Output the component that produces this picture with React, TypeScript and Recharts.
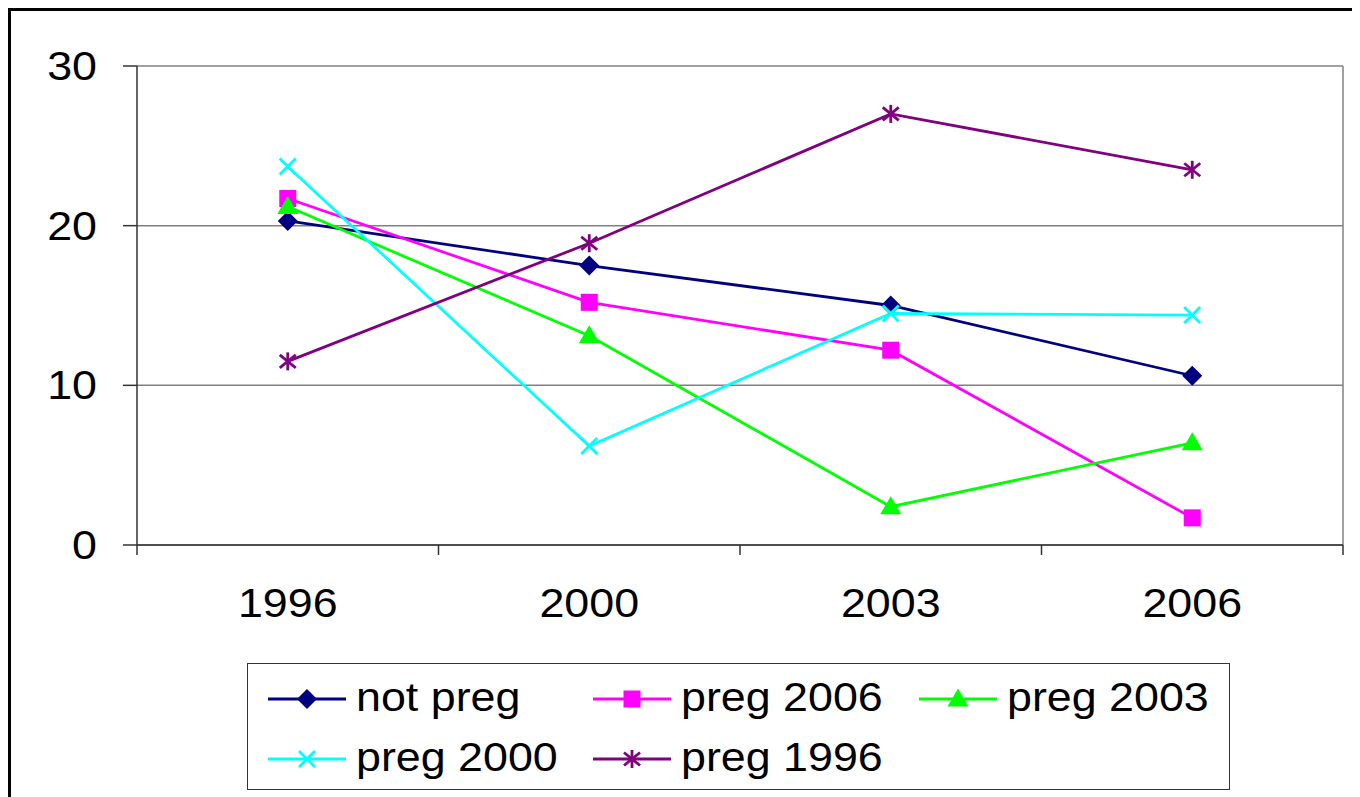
import { LineChart, Line, XAxis, YAxis, CartesianGrid } from 'recharts'

const years = ['1996', '2000', '2003', '2006']
const notPreg = [20.3, 17.5, 15.0, 10.6]
const preg2006 = [21.7, 15.2, 12.2, 1.7]
const preg2003 = [21.2, 13.1, 2.4, 6.4]
const preg2000 = [23.7, 6.2, 14.5, 14.4]
const preg1996 = [11.5, 18.9, 27.0, 23.5]
const yTicks = [0, 10, 20, 30]

type MarkerKind = 'diamond' | 'square' | 'triangle' | 'cross' | 'star'

const series: { key: string; name: string; color: string; marker: MarkerKind; values: number[] }[] = [
  { key: 'notPreg', name: 'not preg', color: '#000080', marker: 'diamond', values: notPreg },
  { key: 'preg2006', name: 'preg 2006', color: '#ff00ff', marker: 'square', values: preg2006 },
  { key: 'preg2003', name: 'preg 2003', color: '#00ff00', marker: 'triangle', values: preg2003 },
  { key: 'preg2000', name: 'preg 2000', color: '#00ffff', marker: 'cross', values: preg2000 },
  { key: 'preg1996', name: 'preg 1996', color: '#800080', marker: 'star', values: preg1996 },
]

const rows = years.map((year, i) => {
  const row: Record<string, string | number> = { year }
  series.forEach((s) => {
    row[s.key] = s.values[i]
  })
  return row
})

const FONT = '"Liberation Sans", Arial, sans-serif'
const STRETCH = 1.12
const LINE_W = 2.8
const W = 1352
const H = 789
const MARGIN = { top: 58, right: 17, bottom: 162, left: 0 }
const Y_WIDTH = 129
// half of one category band; points sit in the middle of their band
const HALF_BAND = (W - MARGIN.left - MARGIN.right - Y_WIDTH) / years.length / 2

function Marker({ kind, cx, cy, color }: { kind: MarkerKind; cx: number; cy: number; color: string }) {
  switch (kind) {
    case 'diamond':
      return <polygon points={`${cx},${cy - 10} ${cx + 10},${cy} ${cx},${cy + 10} ${cx - 10},${cy}`} fill={color} />
    case 'square':
      return <rect x={cx - 8.5} y={cy - 8.5} width={17} height={17} fill={color} />
    case 'triangle':
      return <polygon points={`${cx},${cy - 10.5} ${cx + 10.5},${cy + 7.5} ${cx - 10.5},${cy + 7.5}`} fill={color} />
    case 'cross':
      return (
        <g stroke={color} strokeWidth={2.8}>
          <line x1={cx - 8} y1={cy - 8} x2={cx + 8} y2={cy + 8} />
          <line x1={cx - 8} y1={cy + 8} x2={cx + 8} y2={cy - 8} />
        </g>
      )
    default:
      return (
        <g stroke={color} strokeWidth={2.8}>
          <line x1={cx - 8} y1={cy - 6.5} x2={cx + 8} y2={cy + 6.5} />
          <line x1={cx - 8} y1={cy + 6.5} x2={cx + 8} y2={cy - 6.5} />
          <line x1={cx} y1={cy - 9} x2={cx} y2={cy + 9} />
        </g>
      )
  }
}

// category labels sit in the band centre, tick marks on the band edges
function XTick(props: any) {
  const { x, y, payload, index } = props
  return (
    <g>
      <line x1={x - HALF_BAND} y1={y} x2={x - HALF_BAND} y2={y + 10} stroke="#333" strokeWidth={1.5} />
      {index === years.length - 1 && (
        <line x1={x + HALF_BAND} y1={y} x2={x + HALF_BAND} y2={y + 10} stroke="#333" strokeWidth={1.5} />
      )}
      <g transform={`translate(${x},${y + 72}) scale(${STRETCH},1)`}>
        <text x={0} y={0} textAnchor="middle" fontSize={40} fontFamily={FONT} fill="#000">
          {payload.value}
        </text>
      </g>
    </g>
  )
}

function YTick(props: any) {
  const { x, y, payload } = props
  return (
    <g transform={`translate(${x},${y + 14}) scale(${STRETCH},1)`}>
      <text x={0} y={0} textAnchor="end" fontSize={40} fontFamily={FONT} fill="#000">
        {payload.value}
      </text>
    </g>
  )
}

const legendCols = [20, 345, 671]
const legendRows = [35, 95]

function LegendBox() {
  return (
    <div
      style={{
        position: 'absolute',
        left: 239,
        top: 655,
        width: 983,
        height: 127,
        boxSizing: 'border-box',
        border: '1.5px solid #333',
        background: '#fff',
      }}
    >
      {series.map((s, i) => {
        const left = legendCols[i % 3]
        const mid = legendRows[Math.floor(i / 3)]
        return (
          <div key={s.key}>
            <svg
              width={78}
              height={24}
              style={{ position: 'absolute', left, top: mid - 12, overflow: 'visible' }}
            >
              <line x1={0} y1={12} x2={78} y2={12} stroke={s.color} strokeWidth={LINE_W} />
              <Marker kind={s.marker} cx={39} cy={12} color={s.color} />
            </svg>
            <span
              style={{
                position: 'absolute',
                left: left + 88,
                top: mid - 22,
                fontFamily: FONT,
                fontSize: 40,
                lineHeight: 1,
                whiteSpace: 'nowrap',
                transform: `scaleX(${STRETCH})`,
                transformOrigin: 'left center',
                color: '#000',
              }}
            >
              {s.name}
            </span>
          </div>
        )
      })}
    </div>
  )
}

export default function App() {
  return (
    <div style={{ position: 'relative', width: W, height: H, overflow: 'hidden', background: '#fff' }}>
      <div
        style={{
          position: 'absolute',
          left: 0,
          top: 0,
          width: 1420,
          height: 900,
          boxSizing: 'border-box',
          border: '3px solid #000',
        }}
      />
      <div style={{ position: 'absolute', left: 0, top: 0 }}>
        <LineChart width={W} height={H} data={rows} margin={MARGIN}>
          <CartesianGrid
            stroke="#808080"
            strokeWidth={1.5}
            vertical
            verticalCoordinatesGenerator={({ offset }: any) => [offset.left + offset.width]}
          />
          <XAxis
            dataKey="year"
            height={90}
            interval={0}
            padding={{ left: HALF_BAND, right: HALF_BAND }}
            tickSize={0}
            tickMargin={0}
            tickLine={false}
            axisLine={{ stroke: '#333', strokeWidth: 1.5 }}
            tick={<XTick />}
          />
          <YAxis
            domain={[0, 30]}
            ticks={yTicks}
            width={Y_WIDTH}
            tickSize={14}
            tickMargin={26}
            axisLine={{ stroke: '#333', strokeWidth: 1.5 }}
            tickLine={{ stroke: '#333', strokeWidth: 1.5 }}
            tick={<YTick />}
          />
          {series.map((s) => (
            <Line
              key={s.key}
              dataKey={s.key}
              name={s.name}
              stroke={s.color}
              strokeWidth={LINE_W}
              isAnimationActive={false}
              activeDot={false}
              dot={(p: any) => (
                <Marker key={`${s.key}-${p.index}`} kind={s.marker} cx={p.cx} cy={p.cy} color={s.color} />
              )}
            />
          ))}
        </LineChart>
      </div>
      <LegendBox />
    </div>
  )
}
